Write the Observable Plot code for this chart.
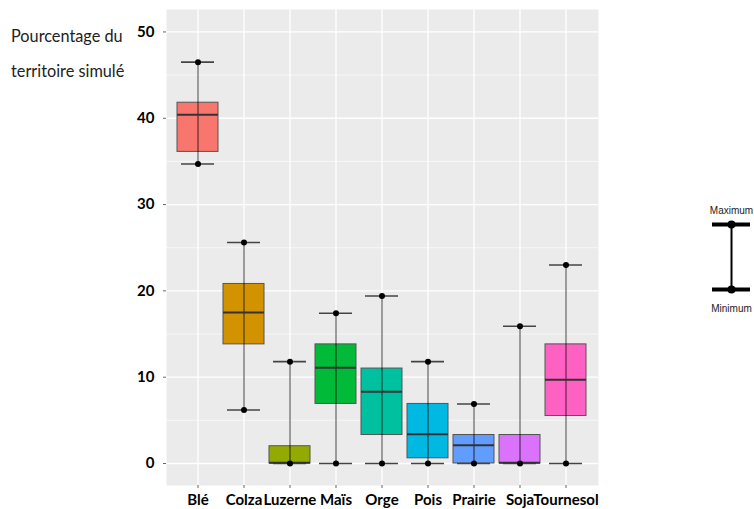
<!DOCTYPE html>
<html><head><meta charset="utf-8">
<script src="https://cdn.jsdelivr.net/npm/d3@7"></script>
<script src="https://cdn.jsdelivr.net/npm/@observablehq/plot@0.6"></script>
<style>
body{margin:0;background:#fff;}
#wrap{position:relative;width:754px;height:509px;overflow:hidden;}
#chart{position:absolute;left:0;top:0;}
#chart svg, #legend svg{display:block;max-width:none;}
#ylab{position:absolute;left:11px;top:18px;font-family:Lato,"Open Sans",sans-serif;font-size:16.3px;line-height:35px;color:#222;}
#legend{position:absolute;left:700px;top:195px;width:54px;}
</style></head><body>
<div id="wrap"><div id="chart"></div><div id="ylab">Pourcentage du<br>territoire simulé</div><div id="legend"></div></div>
<script>
const cultures = ["Blé","Colza","Luzerne","Maïs","Orge","Pois","Prairie","Soja","Tournesol"];
const minimum  = [34.7, 6.2, 0,   0,    0,    0,   0,   0,    0];
const q1       = [36.1, 13.8, 0,  6.9,  3.3,  0.6, 0,   0,    5.5];
const mediane  = [40.4, 17.5, 0.1, 11.1, 8.3, 3.4, 2.1, 0.1,  9.7];
const q3       = [41.8, 20.8, 2.0, 13.8, 11.0, 6.9, 3.3, 3.3, 13.8];
const maximum  = [46.5, 25.6, 11.8, 17.4, 19.4, 11.8, 6.9, 15.9, 23.0];
const couleurs = ["#F8766D","#D39200","#93AA00","#00BA38","#00C19F","#00B9E3","#619CFF","#DB72FB","#FF61C3"];
const yTicks = [0,10,20,30,40,50];
const yMinor = [5,15,25,35,45];
const legendLabels = ["Minimum","Maximum"];

const data = cultures.map((c,i)=>({culture:c,min:minimum[i],q1:q1[i],med:mediane[i],q3:q3[i],max:maximum[i]}));

const plot = Plot.plot({
  width:754, height:509,
  marginLeft:166, marginRight:156, marginTop:9, marginBottom:24,
  style:{fontFamily:"Lato, 'Open Sans', sans-serif", background:"transparent", color:"#000"},
  x:{type:"band", domain:cultures, paddingInner:0.1, paddingOuter:0.15, label:null, axis:null},
  y:{domain:[-2.55,52.6], label:null, axis:null},
  color:{type:"ordinal", domain:cultures, range:couleurs},
  marks:[
    Plot.frame({fill:"#EBEBEB", stroke:null}),
    Plot.ruleY(yMinor,{stroke:"#fff", strokeWidth:0.6}),
    Plot.ruleY(yTicks,{stroke:"#fff", strokeWidth:1.3}),
    Plot.ruleX(cultures,{x:d=>d, stroke:"#fff", strokeWidth:1.3}),
    Plot.axisY(yTicks,{tickSize:3, tickPadding:9, stroke:"#666", fill:"#000", fontSize:15, fontWeight:"bold"}),
    Plot.axisX(cultures,{tickSize:3, tickPadding:6, stroke:"#666", fill:"#000", fontSize:15, fontWeight:"bold", label:null}),
    Plot.barY(data,{x:"culture", y1:"q1", y2:"q3", fill:"culture", stroke:"#555", strokeWidth:1}),
    Plot.ruleX(data,{x:"culture", y1:"min", y2:"max", stroke:"#000", strokeWidth:1, strokeOpacity:0.75}),
    Plot.tickY(data,{x:"culture", y:"max", stroke:"#444", strokeWidth:1.6, insetLeft:4, insetRight:4}),
    Plot.tickY(data,{x:"culture", y:"min", stroke:"#444", strokeWidth:1.6, insetLeft:4, insetRight:4}),
    Plot.tickY(data,{x:"culture", y:"med", stroke:"#333", strokeWidth:2}),
    Plot.dot(data,{x:"culture", y:"max", r:3, fill:"#000", stroke:null}),
    Plot.dot(data,{x:"culture", y:"min", r:3, fill:"#000", stroke:null})
  ]
});
document.getElementById("chart").append(plot);

const legendData = legendLabels.map((l,i)=>({label:l, v:i}));
const legend = Plot.plot({
  width:54, height:130,
  marginLeft:12, marginRight:4, marginTop:29, marginBottom:36,
  style:{background:"transparent", fontFamily:"'Liberation Sans Narrow', 'Liberation Sans', sans-serif"},
  x:{domain:[-1,1], axis:null},
  y:{domain:[0,1], axis:null},
  marks:[
    Plot.ruleY(legendData,{y:"v", stroke:"#000", strokeWidth:4}),
    Plot.ruleX([0],{y1:0, y2:1, stroke:"#000", strokeWidth:2}),
    Plot.dot(legendData,{x:()=>0, y:"v", r:4, fill:"#000"}),
    Plot.text(legendData.filter(d=>d.v===1),{x:()=>0, y:"v", text:"label", dy:-14, fontSize:10, fill:"#222"}),
    Plot.text(legendData.filter(d=>d.v===0),{x:()=>0, y:"v", text:"label", dy:19, fontSize:10, fill:"#222"})
  ]
});
document.getElementById("legend").append(legend);
</script>
</body></html>
